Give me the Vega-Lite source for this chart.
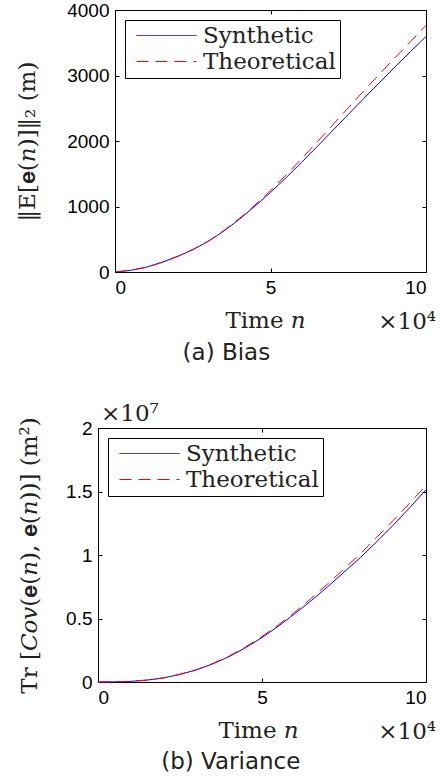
{
  "$schema": "https://vega.github.io/schema/vega-lite/v6.json",
  "padding": {"left": 16, "top": 0, "right": 0, "bottom": 0},
  "background": "white",
  "spacing": 37,
  "resolve": {
    "scale": {"color": "independent"},
    "legend": {"color": "independent"}
  },
  "config": {
    "view": {"stroke": "black", "strokeWidth": 1},
    "axis": {
      "grid": false,
      "domain": false,
      "domainColor": "black",
      "domainWidth": 1,
      "ticks": true,
      "tickSize": -4,
      "tickColor": "black",
      "labelFont": "Liberation Sans",
      "labelFontSize": 19,
      "labelColor": "black",
      "labelPadding": 10,
      "titleFont": "DejaVu Serif",
      "titleFontSize": 23,
      "titleFontWeight": "normal",
      "titleColor": "#222222"
    },
    "legend": {
      "orient": "none",
      "legendX": 10,
      "legendY": 10,
      "title": null,
      "strokeColor": "black",
      "fillColor": "white",
      "padding": 4,
      "symbolType": "M-6,0H6",
      "symbolSize": 100,
      "symbolOffset": 26,
      "symbolStrokeWidth": 1,
      "labelFont": "DejaVu Serif",
      "labelFontSize": 23,
      "labelColor": "#222222",
      "labelOffset": 25,
      "rowPadding": 2
    },
    "title": {"font": "DejaVu Sans", "fontSize": 23, "fontWeight": "normal", "color": "#222222"}
  },
  "datasets": {
    "bias": [
      {"n": 0, "series": "Synthetic", "value": 0},
      {"n": 5000, "series": "Synthetic", "value": 25},
      {"n": 10000, "series": "Synthetic", "value": 72},
      {"n": 15000, "series": "Synthetic", "value": 145},
      {"n": 20000, "series": "Synthetic", "value": 235},
      {"n": 25000, "series": "Synthetic", "value": 340},
      {"n": 30000, "series": "Synthetic", "value": 468},
      {"n": 35000, "series": "Synthetic", "value": 625},
      {"n": 40000, "series": "Synthetic", "value": 805},
      {"n": 45000, "series": "Synthetic", "value": 1005},
      {"n": 50000, "series": "Synthetic", "value": 1215},
      {"n": 55000, "series": "Synthetic", "value": 1440},
      {"n": 60000, "series": "Synthetic", "value": 1675},
      {"n": 65000, "series": "Synthetic", "value": 1915},
      {"n": 70000, "series": "Synthetic", "value": 2160},
      {"n": 75000, "series": "Synthetic", "value": 2405},
      {"n": 80000, "series": "Synthetic", "value": 2650},
      {"n": 85000, "series": "Synthetic", "value": 2890},
      {"n": 90000, "series": "Synthetic", "value": 3130},
      {"n": 95000, "series": "Synthetic", "value": 3365},
      {"n": 100000, "series": "Synthetic", "value": 3594},
      {"n": 0, "series": "Theoretical", "value": 0},
      {"n": 5000, "series": "Theoretical", "value": 25},
      {"n": 10000, "series": "Theoretical", "value": 72},
      {"n": 15000, "series": "Theoretical", "value": 146},
      {"n": 20000, "series": "Theoretical", "value": 237},
      {"n": 25000, "series": "Theoretical", "value": 343},
      {"n": 30000, "series": "Theoretical", "value": 472},
      {"n": 35000, "series": "Theoretical", "value": 632},
      {"n": 40000, "series": "Theoretical", "value": 816},
      {"n": 45000, "series": "Theoretical", "value": 1022},
      {"n": 50000, "series": "Theoretical", "value": 1245},
      {"n": 55000, "series": "Theoretical", "value": 1480},
      {"n": 60000, "series": "Theoretical", "value": 1730},
      {"n": 65000, "series": "Theoretical", "value": 1985},
      {"n": 70000, "series": "Theoretical", "value": 2245},
      {"n": 75000, "series": "Theoretical", "value": 2505},
      {"n": 80000, "series": "Theoretical", "value": 2765},
      {"n": 85000, "series": "Theoretical", "value": 3020},
      {"n": 90000, "series": "Theoretical", "value": 3270},
      {"n": 95000, "series": "Theoretical", "value": 3515},
      {"n": 100000, "series": "Theoretical", "value": 3766}
    ],
    "variance": [
      {"n": 0, "series": "Synthetic", "value": 0},
      {"n": 5000, "series": "Synthetic", "value": 10000},
      {"n": 10000, "series": "Synthetic", "value": 50000},
      {"n": 15000, "series": "Synthetic", "value": 150000},
      {"n": 20000, "series": "Synthetic", "value": 320000},
      {"n": 25000, "series": "Synthetic", "value": 600000},
      {"n": 30000, "series": "Synthetic", "value": 950000},
      {"n": 35000, "series": "Synthetic", "value": 1430000},
      {"n": 40000, "series": "Synthetic", "value": 2000000},
      {"n": 45000, "series": "Synthetic", "value": 2700000},
      {"n": 50000, "series": "Synthetic", "value": 3500000},
      {"n": 55000, "series": "Synthetic", "value": 4400000},
      {"n": 60000, "series": "Synthetic", "value": 5380000},
      {"n": 65000, "series": "Synthetic", "value": 6400000},
      {"n": 70000, "series": "Synthetic", "value": 7500000},
      {"n": 75000, "series": "Synthetic", "value": 8650000},
      {"n": 80000, "series": "Synthetic", "value": 9800000},
      {"n": 85000, "series": "Synthetic", "value": 11050000},
      {"n": 90000, "series": "Synthetic", "value": 12350000},
      {"n": 95000, "series": "Synthetic", "value": 13720000},
      {"n": 100000, "series": "Synthetic", "value": 15140000},
      {"n": 0, "series": "Theoretical", "value": 0},
      {"n": 5000, "series": "Theoretical", "value": 10000},
      {"n": 10000, "series": "Theoretical", "value": 50000},
      {"n": 15000, "series": "Theoretical", "value": 160000},
      {"n": 20000, "series": "Theoretical", "value": 330000},
      {"n": 25000, "series": "Theoretical", "value": 610000},
      {"n": 30000, "series": "Theoretical", "value": 970000},
      {"n": 35000, "series": "Theoretical", "value": 1460000},
      {"n": 40000, "series": "Theoretical", "value": 2040000},
      {"n": 45000, "series": "Theoretical", "value": 2760000},
      {"n": 50000, "series": "Theoretical", "value": 3580000},
      {"n": 55000, "series": "Theoretical", "value": 4500000},
      {"n": 60000, "series": "Theoretical", "value": 5500000},
      {"n": 65000, "series": "Theoretical", "value": 6580000},
      {"n": 70000, "series": "Theoretical", "value": 7720000},
      {"n": 75000, "series": "Theoretical", "value": 8900000},
      {"n": 80000, "series": "Theoretical", "value": 10100000},
      {"n": 85000, "series": "Theoretical", "value": 11400000},
      {"n": 90000, "series": "Theoretical", "value": 12720000},
      {"n": 95000, "series": "Theoretical", "value": 14080000},
      {"n": 100000, "series": "Theoretical", "value": 15460000}
    ]
  },
  "vconcat": [
    {
      "width": 311,
      "height": 262,
      "title": {"text": "(a) Bias", "orient": "bottom", "anchor": "middle", "frame": "bounds", "offset": 8},
      "resolve": {"axis": {"x": "independent", "y": "independent"}},
      "layer": [
        {
          "data": {"name": "bias"},
          "transform": [{"filter": "datum.series === 'Synthetic'"}],
          "mark": {"type": "line", "strokeWidth": 1, "clip": true},
          "encoding": {
            "x": {"field": "n", "type": "quantitative", "scale": {"domain": [0, 100000], "nice": false},
                  "axis": {"values": [0, 50000, 100000], "labelExpr": "datum.value / 10000", "title": "Time 𝑛", "titlePadding": 12, "titleX": 150}},
            "y": {"field": "value", "type": "quantitative", "scale": {"domain": [0, 4000], "nice": false},
                  "axis": {"values": [0, 1000, 2000, 3000, 4000], "format": "d", "title": "‖E[𝐞(𝑛)]‖₂ (m)", "titlePadding": 27}},
            "color": {"field": "series", "type": "nominal", "scale": {"domain": ["Synthetic", "Theoretical"], "range": ["#0000ff", "#ff0000"]},
                      "legend": {"legendX": 10, "encode": {"symbols": {"update": {
                        "stroke": {"signal": "datum.value === 'Theoretical' ? '#ff0000' : '#0000ff'"},
                        "strokeDash": {"signal": "datum.value === 'Theoretical' ? [12, 7] : [1, 0]"}}}}}}
          }
        },
        {
          "data": {"name": "bias"},
          "transform": [{"filter": "datum.series === 'Theoretical'"}],
          "mark": {"type": "line", "strokeWidth": 1, "strokeDash": [12, 7], "clip": true},
          "encoding": {
            "x": {"field": "n", "type": "quantitative", "scale": {"domain": [0, 100000], "nice": false}, "axis": null},
            "y": {"field": "value", "type": "quantitative", "scale": {"domain": [0, 4000], "nice": false}, "axis": null},
            "color": {"field": "series", "type": "nominal", "scale": {"domain": ["Synthetic", "Theoretical"], "range": ["#0000ff", "#ff0000"]},
                      "legend": {"legendX": 10, "encode": {"symbols": {"update": {
                        "stroke": {"signal": "datum.value === 'Theoretical' ? '#ff0000' : '#0000ff'"},
                        "strokeDash": {"signal": "datum.value === 'Theoretical' ? [12, 7] : [1, 0]"}}}}}}
          }
        },
        {
          "data": {"name": "bias"},
          "mark": {"type": "point", "opacity": 0},
          "encoding": {
            "x": {"field": "n", "type": "quantitative", "scale": {"domain": [0, 100000], "nice": false},
                  "axis": {"orient": "top", "values": [0, 50000, 100000], "labels": false, "title": null}},
            "y": {"field": "value", "type": "quantitative", "scale": {"domain": [0, 4000], "nice": false},
                  "axis": {"orient": "right", "values": [0, 1000, 2000, 3000, 4000], "labels": false, "title": null}}
          }
        },
        {
          "data": {"values": [{"label": "×10⁴"}]},
          "mark": {"type": "text", "font": "DejaVu Serif", "fontSize": 23, "color": "#222222", "align": "right", "baseline": "middle", "dx": 10, "dy": 50},
          "encoding": {
            "x": {"datum": 100000, "axis": null},
            "y": {"datum": 0, "axis": null},
            "text": {"field": "label"}
          }
        }
      ]
    },
    {
      "width": 311,
      "height": 254,
      "view": {"stroke": null},
      "title": {"text": "(b) Variance", "orient": "bottom", "anchor": "middle", "frame": "bounds", "offset": 7},
      "resolve": {"axis": {"x": "independent", "y": "independent"}},
      "layer": [
        {
          "data": {"name": "variance"},
          "transform": [{"filter": "datum.series === 'Synthetic'"}],
          "mark": {"type": "line", "strokeWidth": 1, "clip": false},
          "encoding": {
            "x": {"field": "n", "type": "quantitative", "scale": {"domain": [0, 100000], "range": [-17, 311], "nice": false},
                  "axis": {"values": [0, 50000, 100000], "labelExpr": "datum.value / 10000", "title": "Time 𝑛", "titlePadding": 12, "titleX": 143, "domain": true}},
            "y": {"field": "value", "type": "quantitative", "scale": {"domain": [0, 20000000], "nice": false},
                  "axis": {"values": [0, 5000000, 10000000, 15000000, 20000000], "labelExpr": "datum.value / 10000000", "title": "Tr [𝐶𝑜𝑣(𝐞(𝑛), 𝐞(𝑛))] (m²)", "titlePadding": 24, "domain": true, "offset": 17}},
            "color": {"field": "series", "type": "nominal", "scale": {"domain": ["Synthetic", "Theoretical"], "range": ["#0000ff", "#ff0000"]},
                      "legend": {"legendX": -7, "encode": {"symbols": {"update": {
                        "stroke": {"signal": "datum.value === 'Theoretical' ? '#ff0000' : '#0000ff'"},
                        "strokeDash": {"signal": "datum.value === 'Theoretical' ? [12, 7] : [1, 0]"}}}}}}
          }
        },
        {
          "data": {"name": "variance"},
          "transform": [{"filter": "datum.series === 'Theoretical'"}],
          "mark": {"type": "line", "strokeWidth": 1, "strokeDash": [12, 7], "clip": false},
          "encoding": {
            "x": {"field": "n", "type": "quantitative", "scale": {"domain": [0, 100000], "range": [-17, 311], "nice": false}, "axis": null},
            "y": {"field": "value", "type": "quantitative", "scale": {"domain": [0, 20000000], "nice": false}, "axis": null},
            "color": {"field": "series", "type": "nominal", "scale": {"domain": ["Synthetic", "Theoretical"], "range": ["#0000ff", "#ff0000"]},
                      "legend": {"legendX": -7, "encode": {"symbols": {"update": {
                        "stroke": {"signal": "datum.value === 'Theoretical' ? '#ff0000' : '#0000ff'"},
                        "strokeDash": {"signal": "datum.value === 'Theoretical' ? [12, 7] : [1, 0]"}}}}}}
          }
        },
        {
          "data": {"name": "variance"},
          "mark": {"type": "point", "opacity": 0},
          "encoding": {
            "x": {"field": "n", "type": "quantitative", "scale": {"domain": [0, 100000], "range": [-17, 311], "nice": false},
                  "axis": {"orient": "top", "values": [0, 50000, 100000], "labels": false, "title": null, "domain": true}},
            "y": {"field": "value", "type": "quantitative", "scale": {"domain": [0, 20000000], "nice": false},
                  "axis": {"orient": "right", "values": [0, 5000000, 10000000, 15000000, 20000000], "labels": false, "title": null, "domain": true}}
          }
        },
        {
          "data": {"values": [{"label": "×10⁴"}]},
          "mark": {"type": "text", "font": "DejaVu Serif", "fontSize": 23, "color": "#222222", "align": "right", "baseline": "middle", "dx": 10, "dy": 50},
          "encoding": {
            "x": {"datum": 100000, "axis": null},
            "y": {"datum": 0, "axis": null},
            "text": {"field": "label"}
          }
        },
        {
          "data": {"values": [{"label": "×10⁷"}]},
          "mark": {"type": "text", "font": "DejaVu Serif", "fontSize": 23, "color": "#222222", "align": "left", "baseline": "middle", "dx": 3, "dy": -14},
          "encoding": {
            "x": {"datum": 0, "axis": null},
            "y": {"datum": 20000000, "axis": null},
            "text": {"field": "label"}
          }
        }
      ]
    }
  ]
}
